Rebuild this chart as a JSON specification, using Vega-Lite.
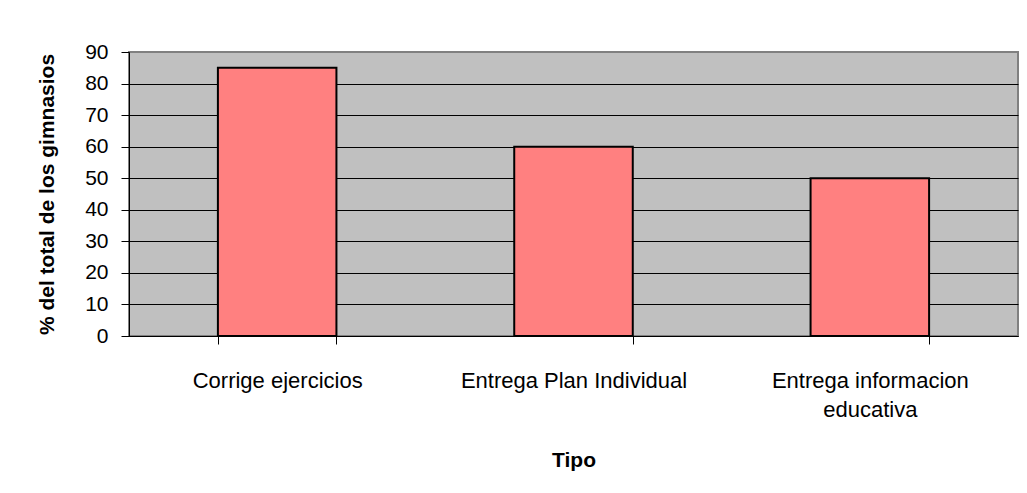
{
  "$schema": "https://vega.github.io/schema/vega-lite/v6.json",
  "width": 889,
  "height": 284,
  "autosize": {"type": "none"},
  "padding": {"left": 129, "top": 52, "right": 9, "bottom": 157},
  "background": "white",
  "data": {
    "values": [
      {"Tipo": "Corrige ejercicios", "pct": 85},
      {"Tipo": "Entrega Plan Individual", "pct": 60},
      {"Tipo": "Entrega informacion educativa", "pct": 50}
    ]
  },
  "config": {
    "view": {"fill": "#C0C0C0", "stroke": "#808080", "strokeWidth": 2},
    "font": "Liberation Sans"
  },
  "mark": {"type": "bar", "fill": "#FF8080", "stroke": "black", "strokeWidth": 2},
  "encoding": {
    "x": {
      "field": "Tipo",
      "type": "nominal",
      "sort": null,
      "scale": {"paddingInner": 0.6, "paddingOuter": 0.3},
      "axis": {
        "title": "Tipo",
        "titleFont": "Liberation Sans",
        "titleFontSize": 21,
        "titleFontWeight": "bold",
        "titleColor": "black",
        "titlePadding": 29,
        "labelAngle": 0,
        "labelFont": "Liberation Sans",
        "labelFontSize": 22,
        "labelColor": "black",
        "labelPadding": 26,
        "labelLineHeight": 29,
        "labelBaseline": "top",
        "labelExpr": "datum.label == 'Entrega informacion educativa' ? ['Entrega informacion', 'educativa'] : datum.label",
        "labelLimit": 400,
        "tickBand": "extent",
        "tickSize": 8,
        "tickColor": "black",
        "domainColor": "black",
        "domainWidth": 1,
        "grid": false
      }
    },
    "y": {
      "field": "pct",
      "type": "quantitative",
      "scale": {"domain": [0, 90], "nice": false},
      "axis": {
        "title": "% del total de los gimnasios",
        "titleFont": "Liberation Sans",
        "titleFontSize": 21,
        "titleFontWeight": "bold",
        "titleColor": "black",
        "titlePadding": 27,
        "values": [0, 10, 20, 30, 40, 50, 60, 70, 80, 90],
        "labelFont": "Liberation Sans",
        "labelFontSize": 21,
        "labelColor": "black",
        "labelPadding": 13,
        "tickSize": 8,
        "tickColor": "black",
        "domainColor": "black",
        "grid": true,
        "gridColor": {"condition": {"test": "datum.value == 90", "value": "#808080"}, "value": "black"},
        "gridOpacity": 1,
        "gridWidth": 1
      }
    }
  }
}
